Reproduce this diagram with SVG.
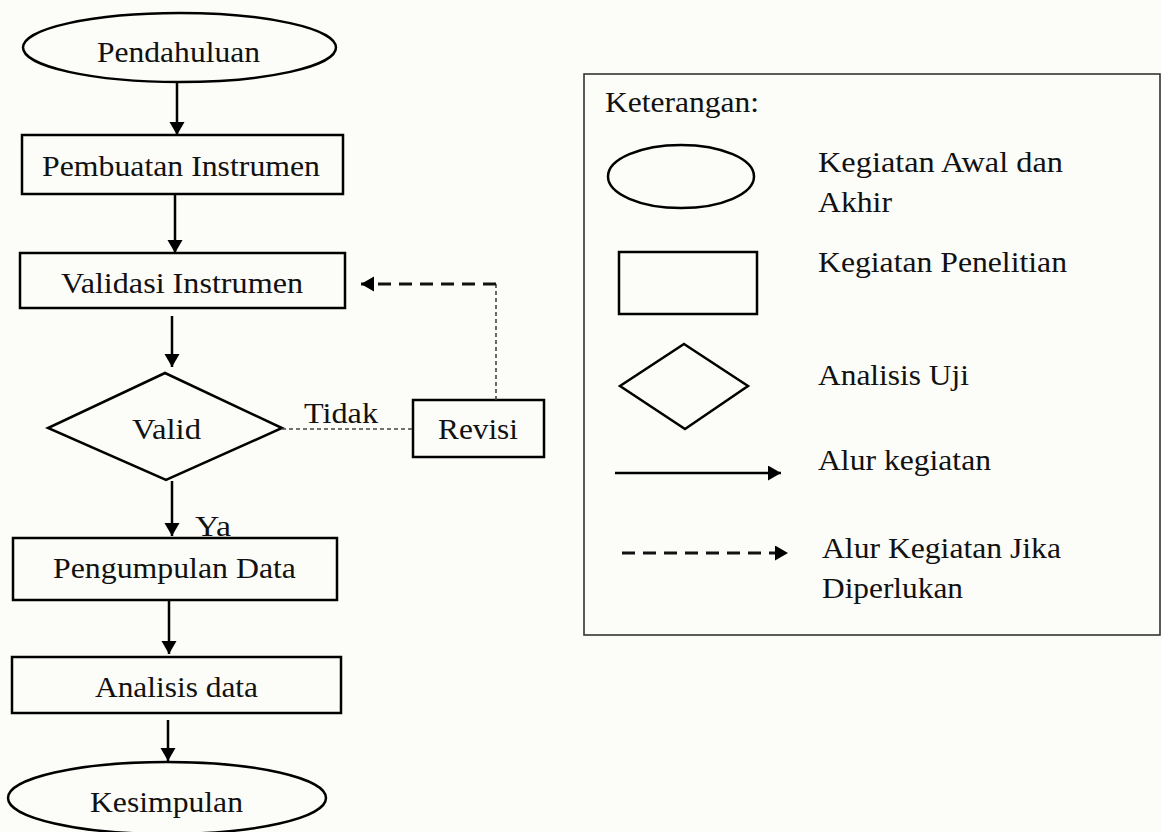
<svg xmlns="http://www.w3.org/2000/svg" width="1161" height="832" viewBox="0 0 1161 832">
<defs>
<style>
.shape{fill:none;stroke:#000;stroke-width:2.5}
text{font-family:'Liberation Serif','Times New Roman',serif;font-size:30px;fill:#111}
.flow{stroke:#000;stroke-width:2.5;fill:none}
.thin{stroke:#444;stroke-width:1.6;fill:none;stroke-dasharray:4 3}
.thickdash{stroke:#111;stroke-width:3;fill:none;stroke-dasharray:13 8}
</style>
<marker id="ah" markerUnits="userSpaceOnUse" markerWidth="14" markerHeight="16" refX="13" refY="7.5" orient="auto">
<path d="M0,0 L13,7.5 L0,15 z" fill="#000"/>
</marker>
</defs>
<rect x="0" y="0" width="1161" height="832" fill="#fcfcf8"/>

<g id="node-pendahuluan">
<ellipse class="shape" cx="179.5" cy="47.5" rx="156.5" ry="34.5"/>
<text x="97" y="62" textLength="163" lengthAdjust="spacingAndGlyphs">Pendahuluan</text>
</g>
<g id="node-pembuatan">
<rect class="shape" x="22" y="135" width="321" height="59"/>
<text x="42" y="176" textLength="278" lengthAdjust="spacingAndGlyphs">Pembuatan Instrumen</text>
</g>
<g id="node-validasi">
<rect class="shape" x="20" y="253" width="325" height="55"/>
<text x="61" y="293" textLength="242" lengthAdjust="spacingAndGlyphs">Validasi Instrumen</text>
</g>
<g id="node-valid">
<polygon class="shape" points="165,373 282,428 166,480 48,428"/>
<text x="132" y="439" textLength="69" lengthAdjust="spacingAndGlyphs">Valid</text>
</g>
<g id="node-revisi">
<rect class="shape" x="413" y="400" width="131" height="57"/>
<text x="438" y="439" textLength="80" lengthAdjust="spacingAndGlyphs">Revisi</text>
</g>
<g id="node-pengumpulan">
<rect class="shape" x="13" y="538" width="324" height="62"/>
<text x="53" y="578" textLength="243" lengthAdjust="spacingAndGlyphs">Pengumpulan Data</text>
</g>
<g id="node-analisis">
<rect class="shape" x="12" y="657" width="329" height="56"/>
<text x="95" y="697" textLength="163" lengthAdjust="spacingAndGlyphs">Analisis data</text>
</g>
<g id="node-kesimpulan">
<ellipse class="shape" cx="167" cy="798" rx="159" ry="36"/>
<text x="90" y="812" textLength="153" lengthAdjust="spacingAndGlyphs">Kesimpulan</text>
</g>

<g id="connectors">
<line class="flow" x1="177" y1="82" x2="177" y2="135" marker-end="url(#ah)"/>
<line class="flow" x1="175" y1="195" x2="175" y2="253" marker-end="url(#ah)"/>
<line class="flow" x1="172" y1="316" x2="172" y2="367" marker-end="url(#ah)"/>
<line class="flow" x1="172" y1="481" x2="172" y2="536" marker-end="url(#ah)"/>
<line class="flow" x1="169" y1="601" x2="169" y2="654" marker-end="url(#ah)"/>
<line class="flow" x1="168" y1="720" x2="168" y2="761" marker-end="url(#ah)"/>
<line class="thin" x1="282" y1="429" x2="413" y2="429"/>
<polyline class="thin" points="496,400 496,284"/>
<line class="thickdash" x1="496" y1="284" x2="361" y2="284" marker-end="url(#ah)"/>
<text x="304" y="423" textLength="74" lengthAdjust="spacingAndGlyphs">Tidak</text>
<text x="195" y="536" textLength="36" lengthAdjust="spacingAndGlyphs">Ya</text>
</g>

<g id="legend">
<rect x="584" y="74" width="576" height="561" fill="none" stroke="#333" stroke-width="1.6"/>
<text x="605" y="112" textLength="154" lengthAdjust="spacingAndGlyphs">Keterangan:</text>
<ellipse class="shape" cx="681" cy="176.5" rx="73" ry="31.5"/>
<text x="818" y="172" textLength="245" lengthAdjust="spacingAndGlyphs">Kegiatan Awal dan</text>
<text x="818" y="212" textLength="74" lengthAdjust="spacingAndGlyphs">Akhir</text>
<rect class="shape" x="619" y="252" width="138" height="62"/>
<text x="818" y="272" textLength="249" lengthAdjust="spacingAndGlyphs">Kegiatan Penelitian</text>
<polygon class="shape" stroke-width="2" points="684,344 748,386 685,429 620,386"/>
<text x="818" y="385" textLength="151" lengthAdjust="spacingAndGlyphs">Analisis Uji</text>
<line class="flow" x1="615" y1="473" x2="781" y2="473" marker-end="url(#ah)"/>
<text x="818" y="470" textLength="173" lengthAdjust="spacingAndGlyphs">Alur kegiatan</text>
<line class="thickdash" stroke-dasharray="11 9" x1="622" y1="553" x2="788" y2="553" marker-end="url(#ah)"/>
<text x="822" y="558" textLength="239" lengthAdjust="spacingAndGlyphs">Alur Kegiatan Jika</text>
<text x="822" y="598" textLength="141" lengthAdjust="spacingAndGlyphs">Diperlukan</text>
</g>
</svg>
